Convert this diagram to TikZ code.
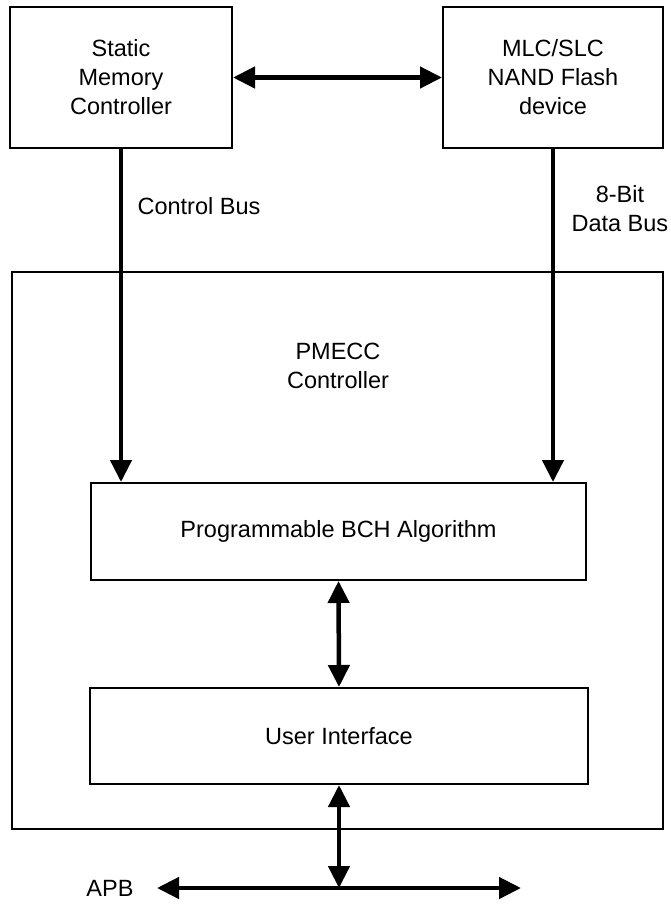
\documentclass[tikz,border=0pt]{standalone}
\usepackage{fontspec}
\setmainfont{Liberation Sans}
\usetikzlibrary{arrows.meta, positioning}

\begin{document}
\begin{tikzpicture}[x=1pt,y=-1pt,>={Triangle[length=22pt,width=21pt]},
    every node/.style={font=\fontsize{23.5}{29}\selectfont},
    block/.style={draw,line width=2pt,align=center,inner sep=0pt},
    bus/.style={line width=4.5pt}]
    \useasboundingbox (0,0) rectangle (670,905);
    \node[block,minimum width=651pt,minimum height=557pt] (pmecc) at (337.5,550.5) {};
    \node[align=center] (title) at (338,366) {PMECC\\Controller};
    \node[block,minimum width=222pt,minimum height=141pt] (smc) at (121,77.5) {Static\\Memory\\Controller};
    \node[block,minimum width=220pt,minimum height=141pt] (nand) at (553,77.5) {MLC/SLC\\NAND Flash\\device};
    \node[block,minimum width=495pt,minimum height=97pt] (bch) at (338.5,531.5) {Programmable BCH Algorithm};
    \node[block,minimum width=498pt,minimum height=96pt] (ui) at (339,736) {User Interface};
    \coordinate (apbl) at (157,888);
    \coordinate (apbr) at (521,888);
    \coordinate (apbm) at (ui.south |- apbl);
    \node (apb) [left=20pt of apbl] {APB};
    \path[bus]
      (smc.east) edge[<->] (nand.west)
      (smc.south) edge[->] node[pos=.17,right=11pt] {Control Bus} (smc.south |- bch.north)
      (nand.south) edge[->] node[pos=.18,right=13pt,align=center] {8-Bit\\Data Bus} (nand.south |- bch.north)
      (bch.south) edge[<->] (ui.north)
      (ui.south) edge[<->] (apbm)
      (apbl) edge[<->] (apbr);
  \end{tikzpicture}
\end{document}
